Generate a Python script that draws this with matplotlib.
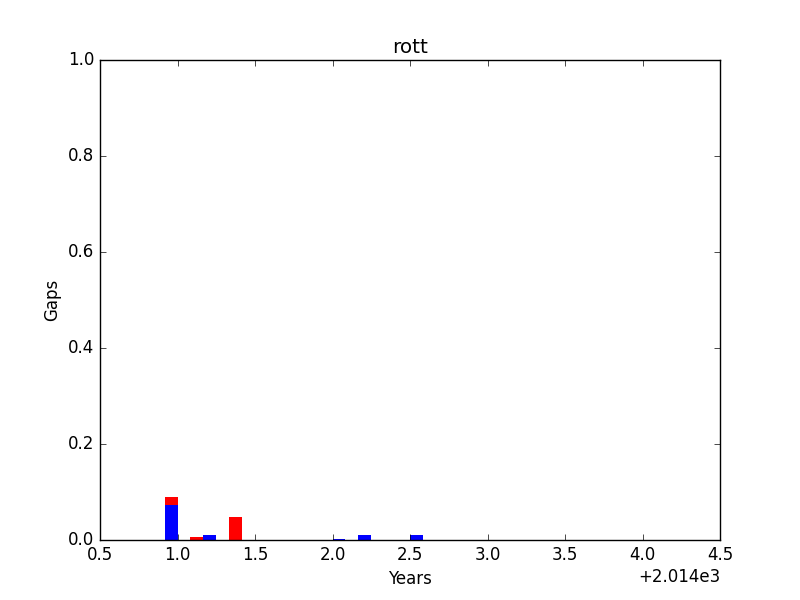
import matplotlib
matplotlib.use("Agg")
import matplotlib.pyplot as plt

plt.style.use("classic")

# month starts (decimal years) and gap fractions
red_x = [2014 + 11/12, 2015 + 1/12, 2015 + 4/12]
red_h = [0.089, 0.006, 0.048]
blue_x = [2014 + 11/12, 2015 + 2/12, 2015 + 4/12, 2016.0, 2016 + 2/12, 2016 + 6/12]
blue_h = [0.072, 0.0104, 0.001, 0.002, 0.0104, 0.0104]
bar_w = 1/12

fig = plt.figure(figsize=(8, 6), dpi=100, facecolor="white")
ax = fig.add_subplot(111)

ax.bar(red_x, red_h, width=bar_w, align="edge", color="red", linewidth=0)
ax.bar(blue_x, blue_h, width=bar_w, align="edge", color="blue", linewidth=0)

ax.set_xlim(2014.5, 2018.5)
ax.set_ylim(0, 1)
ax.ticklabel_format(axis="x", useOffset=2014)
ax.set_title("rott")
ax.set_xlabel("Years")
ax.set_ylabel("Gaps")

fig.savefig("out.png", dpi=100, facecolor="white")
